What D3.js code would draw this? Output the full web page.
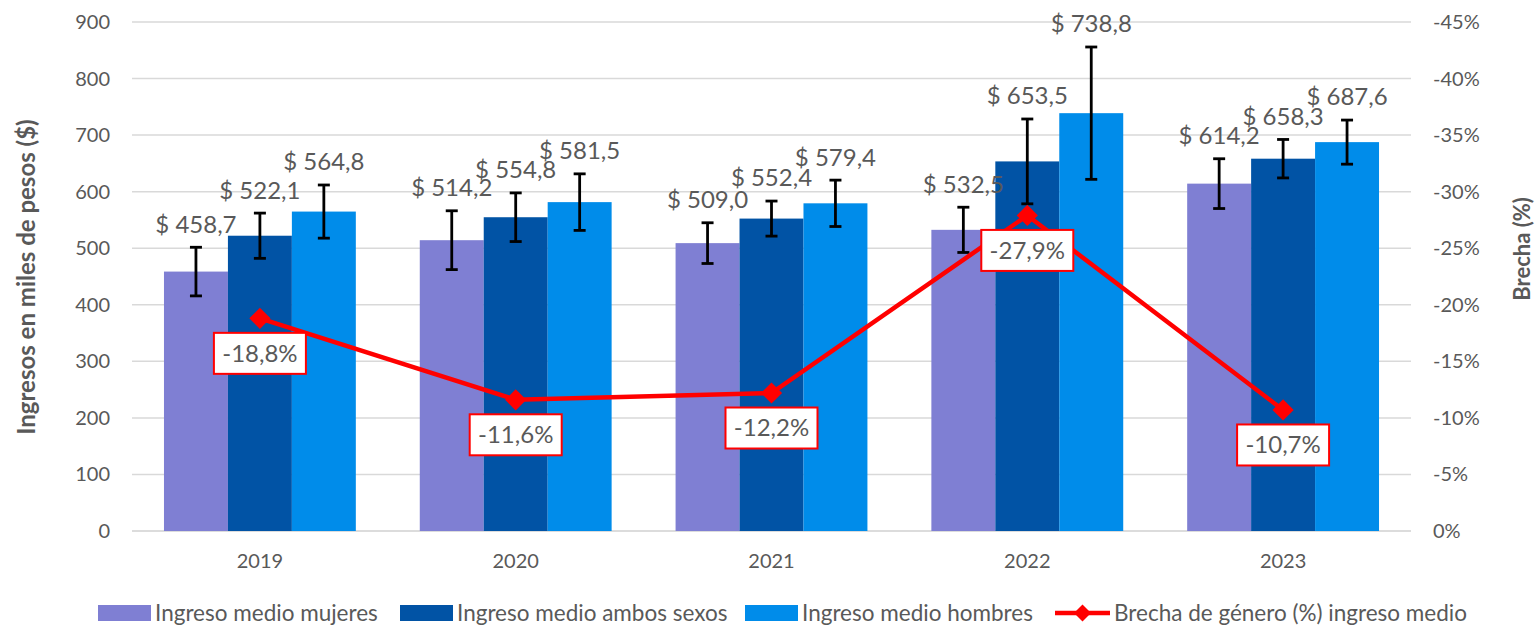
<!DOCTYPE html>
<html>
<head>
<meta charset="utf-8">
<script src="https://cdn.jsdelivr.net/npm/d3@7"></script>
<style>
  body { margin: 0; background: #fff; }
  text { font-family: Lato, "Open Sans", sans-serif; fill: #595959; }
</style>
</head>
<body>
<div id="chart"></div>
<script>
// datos
const years = ['2019', '2020', '2021', '2022', '2023'];
const seriesNames = ['Ingreso medio mujeres', 'Ingreso medio ambos sexos', 'Ingreso medio hombres'];
const mujeres = [458.7, 514.2, 509.0, 532.5, 614.2];
const ambos = [522.1, 554.8, 552.4, 653.5, 658.3];
const hombres = [564.8, 581.5, 579.4, 738.8, 687.6];
const errMujeres = [43, 52, 36, 40, 44];
const errAmbos = [40, 43, 31, 75, 34];
const errHombres = [47, 50, 41, 117, 39];
const brecha = [-18.8, -11.6, -12.2, -27.9, -10.7];
const lineName = 'Brecha de género (%) ingreso medio';
const leftTicks = [0, 100, 200, 300, 400, 500, 600, 700, 800, 900];
const rightTicks = [0, -5, -10, -15, -20, -25, -30, -35, -40, -45];

const colors = ['#7F7FD3', '#0153A5', '#008CEA'];
const lineColor = '#FF0000';

const width = 1535, height = 625;
const plot = { left: 132, right: 1411, top: 22, bottom: 531 };

const svg = d3.select('#chart').append('svg')
  .attr('width', width)
  .attr('height', height);

// 1. escalas
const x0 = d3.scaleBand().domain(years).range([plot.left, plot.right]).padding(0);
const bw = x0.bandwidth();
const x1 = d3.scaleBand().domain(seriesNames).range([bw * 0.125, bw * 0.875]).padding(0);
const y = d3.scaleLinear().domain([0, 900]).range([plot.bottom, plot.top]);
const y2 = d3.scaleLinear().domain([0, -45]).range([plot.bottom, plot.top]);

// 2. cuadrícula
svg.append('g')
  .selectAll('line')
  .data(leftTicks)
  .join('line')
  .attr('x1', plot.left)
  .attr('x2', plot.right)
  .attr('y1', d => y(d))
  .attr('y2', d => y(d))
  .attr('stroke', d => d === 0 ? '#D0D0D0' : '#D9D9D9')
  .attr('stroke-width', 1.5);

// ejes (solo etiquetas)
svg.append('g')
  .selectAll('text')
  .data(leftTicks)
  .join('text')
  .attr('x', 110)
  .attr('y', d => y(d))
  .attr('dy', '0.35em')
  .attr('text-anchor', 'end')
  .style('font-size', '20px')
  .text(d => d);

svg.append('g')
  .selectAll('text')
  .data(rightTicks)
  .join('text')
  .attr('x', 1433)
  .attr('y', d => y2(d))
  .attr('dy', '0.35em')
  .attr('text-anchor', 'start')
  .style('font-size', '20px')
  .text(d => d === 0 ? '0%' : `${d}%`);

svg.append('g')
  .selectAll('text')
  .data(years)
  .join('text')
  .attr('x', d => x0(d) + bw / 2)
  .attr('y', 561)
  .attr('dy', '0.35em')
  .attr('text-anchor', 'middle')
  .style('font-size', '20px')
  .text(d => d);

svg.append('text')
  .attr('transform', `translate(27, 277) rotate(-90)`)
  .attr('dy', '0.35em')
  .attr('text-anchor', 'middle')
  .style('font-size', '24px')
  .style('font-weight', 'bold')
  .text('Ingresos en miles de pesos ($)');

svg.append('text')
  .attr('transform', `translate(1522, 249) rotate(-90)`)
  .attr('dy', '0.35em')
  .attr('text-anchor', 'middle')
  .style('font-size', '22px')
  .style('font-weight', 'bold')
  .text('Brecha (%)');

// 3. barras
const values = [mujeres, ambos, hombres];
const errors = [errMujeres, errAmbos, errHombres];
const barData = years.flatMap((yr, i) => seriesNames.map((s, k) => ({
  year: yr, series: s, k, value: values[k][i], err: errors[k][i]
})));

svg.append('g')
  .selectAll('rect')
  .data(barData)
  .join('rect')
  .attr('x', d => x0(d.year) + x1(d.series))
  .attr('y', d => y(d.value))
  .attr('width', x1.bandwidth())
  .attr('height', d => y(0) - y(d.value))
  .attr('fill', d => colors[d.k]);

// barras de error
const errG = svg.append('g').attr('stroke', '#000').attr('stroke-width', 2.8);
barData.forEach(d => {
  const cx = x0(d.year) + x1(d.series) + x1.bandwidth() / 2;
  const top = y(d.value + d.err), bot = y(d.value - d.err);
  errG.append('line').attr('x1', cx).attr('x2', cx).attr('y1', top).attr('y2', bot);
  errG.append('line').attr('x1', cx - 6).attr('x2', cx + 6).attr('y1', top).attr('y2', top);
  errG.append('line').attr('x1', cx - 6).attr('x2', cx + 6).attr('y1', bot).attr('y2', bot);
});

// etiquetas de valores
svg.append('g')
  .selectAll('text')
  .data(barData)
  .join('text')
  .attr('x', d => x0(d.year) + x1(d.series) + x1.bandwidth() / 2)
  .attr('y', d => y(d.value + d.err) - 23)
  .attr('dy', '0.35em')
  .attr('text-anchor', 'middle')
  .style('font-size', '24px')
  .text(d => `$ ${d.value.toFixed(1).replace('.', ',')}`);

// 4. línea de brecha
const lineData = years.map((yr, i) => ({ year: yr, value: brecha[i] }));
const line = d3.line()
  .x(d => x0(d.year) + bw / 2)
  .y(d => y2(d.value));

svg.append('path')
  .datum(lineData)
  .attr('d', line)
  .attr('fill', 'none')
  .attr('stroke', lineColor)
  .attr('stroke-width', 4.5);

svg.append('g')
  .selectAll('rect')
  .data(lineData)
  .join('rect')
  .attr('x', -7.5)
  .attr('y', -7.5)
  .attr('width', 15)
  .attr('height', 15)
  .attr('fill', lineColor)
  .attr('transform', d => `translate(${x0(d.year) + bw / 2}, ${y2(d.value)}) rotate(45)`);

const lbl = svg.append('g')
  .selectAll('g')
  .data(lineData)
  .join('g')
  .attr('transform', d => `translate(${x0(d.year) + bw / 2}, ${y2(d.value) + 35})`);

lbl.append('rect')
  .attr('x', -46)
  .attr('y', -20.5)
  .attr('width', 92)
  .attr('height', 41)
  .attr('fill', '#fff')
  .attr('stroke', lineColor)
  .attr('stroke-width', 2);

lbl.append('text')
  .attr('dy', '0.35em')
  .attr('text-anchor', 'middle')
  .style('font-size', '24px')
  .text(d => `${d.value.toFixed(1).replace('.', ',')}%`);

// 5. leyenda
const legendY = 613;
const legendItems = [
  { name: seriesNames[0], x: 98, color: colors[0], type: 'rect' },
  { name: seriesNames[1], x: 400, color: colors[1], type: 'rect' },
  { name: seriesNames[2], x: 745, color: colors[2], type: 'rect' },
  { name: lineName, x: 1055, color: lineColor, type: 'line' }
];
const leg = svg.append('g')
  .selectAll('g')
  .data(legendItems)
  .join('g')
  .attr('transform', d => `translate(${d.x}, ${legendY})`);

leg.filter(d => d.type === 'rect').append('rect')
  .attr('x', 0)
  .attr('y', -8)
  .attr('width', 53)
  .attr('height', 16)
  .attr('fill', d => d.color);

const legLine = leg.filter(d => d.type === 'line');
legLine.append('line')
  .attr('x1', 0).attr('x2', 55)
  .attr('stroke', lineColor)
  .attr('stroke-width', 4.5);
legLine.append('rect')
  .attr('x', -6).attr('y', -6)
  .attr('width', 12).attr('height', 12)
  .attr('fill', lineColor)
  .attr('transform', 'translate(27.5, 0) rotate(45)');

leg.append('text')
  .attr('x', d => d.type === 'line' ? 59 : 57)
  .attr('dy', '0.35em')
  .style('font-size', '22.5px')
  .text(d => d.name);
</script>
</body>
</html>
